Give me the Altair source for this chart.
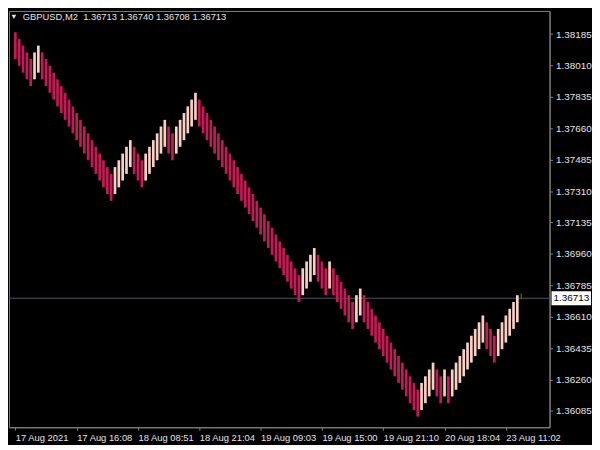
import altair as alt
import pandas as pd

# ---------------- data ----------------
symbol = "GBPUSD,M2"
quote = ["1.36713", "1.36740", "1.36708", "1.36713"]

bar_high = [
    1.38196, 1.38158, 1.38121, 1.38083, 1.38046, 1.38083, 1.38121, 1.38083, 1.38046, 1.38008,
    1.37970, 1.37933, 1.37895, 1.37858, 1.37820, 1.37782, 1.37745, 1.37707, 1.37670, 1.37632,
    1.37594, 1.37557, 1.37519, 1.37482, 1.37444, 1.37406, 1.37444, 1.37482, 1.37519, 1.37557,
    1.37594, 1.37557, 1.37519, 1.37482, 1.37519, 1.37557, 1.37594, 1.37632, 1.37670, 1.37707,
    1.37670, 1.37632, 1.37670, 1.37707, 1.37745, 1.37782, 1.37820, 1.37858, 1.37820, 1.37782,
    1.37745, 1.37707, 1.37670, 1.37632, 1.37594, 1.37557, 1.37519, 1.37482, 1.37444, 1.37406,
    1.37369, 1.37331, 1.37294, 1.37256, 1.37218, 1.37181, 1.37143, 1.37106, 1.37068, 1.37030,
    1.36993, 1.36955, 1.36918, 1.36880, 1.36842, 1.36880, 1.36918, 1.36955, 1.36993, 1.36955,
    1.36918, 1.36880, 1.36918, 1.36880, 1.36842, 1.36805, 1.36767, 1.36730, 1.36692, 1.36730,
    1.36767, 1.36730, 1.36692, 1.36654, 1.36617, 1.36579, 1.36542, 1.36504, 1.36466, 1.36429,
    1.36391, 1.36354, 1.36316, 1.36278, 1.36241, 1.36203, 1.36241, 1.36278, 1.36316, 1.36354,
    1.36316, 1.36278, 1.36316, 1.36278, 1.36316, 1.36354, 1.36391, 1.36429, 1.36466, 1.36504,
    1.36542, 1.36579, 1.36617, 1.36579, 1.36542, 1.36504, 1.36542, 1.36579, 1.36617, 1.36654,
    1.36692, 1.36730,
]

bar_low = [
    1.38046, 1.38008, 1.37970, 1.37933, 1.37895, 1.37933, 1.37970, 1.37933, 1.37895, 1.37858,
    1.37820, 1.37782, 1.37745, 1.37707, 1.37670, 1.37632, 1.37594, 1.37557, 1.37519, 1.37482,
    1.37444, 1.37406, 1.37369, 1.37331, 1.37294, 1.37256, 1.37294, 1.37331, 1.37369, 1.37406,
    1.37444, 1.37406, 1.37369, 1.37331, 1.37369, 1.37406, 1.37444, 1.37482, 1.37519, 1.37557,
    1.37519, 1.37482, 1.37519, 1.37557, 1.37594, 1.37632, 1.37670, 1.37707, 1.37670, 1.37632,
    1.37594, 1.37557, 1.37519, 1.37482, 1.37444, 1.37406, 1.37369, 1.37331, 1.37294, 1.37256,
    1.37218, 1.37181, 1.37143, 1.37106, 1.37068, 1.37030, 1.36993, 1.36955, 1.36918, 1.36880,
    1.36842, 1.36805, 1.36767, 1.36730, 1.36692, 1.36730, 1.36767, 1.36805, 1.36842, 1.36805,
    1.36767, 1.36730, 1.36767, 1.36730, 1.36692, 1.36654, 1.36617, 1.36579, 1.36542, 1.36579,
    1.36617, 1.36579, 1.36542, 1.36504, 1.36466, 1.36429, 1.36391, 1.36354, 1.36316, 1.36278,
    1.36241, 1.36203, 1.36166, 1.36128, 1.36090, 1.36053, 1.36090, 1.36128, 1.36166, 1.36203,
    1.36166, 1.36128, 1.36166, 1.36128, 1.36166, 1.36203, 1.36241, 1.36278, 1.36316, 1.36354,
    1.36391, 1.36429, 1.36466, 1.36429, 1.36391, 1.36354, 1.36391, 1.36429, 1.36466, 1.36504,
    1.36542, 1.36579,
]

bar_dir = list(
    "DDDDD" "UU" "DDDDDDDDDDDDDDDDDDD" "UUUUU" "DDD" "UUUUUU" "DD" "UUUUUU"
    "DDDDDDDDDDDDDDDDDDDDDDDDDDD" "UUUU" "DDD" "U" "DDDDDD" "UU"
    "DDDDDDDDDDDDDDD" "UUUU" "DD" "U" "D" "UUUUUUUUU" "DDD" "UUUUUU"
)

time_ticks = [1, 17, 33, 49, 65, 81, 97, 113, 129]
time_labels = ["17 Aug 2021", "17 Aug 16:08", "18 Aug 08:51", "18 Aug 21:04",
               "19 Aug 09:03", "19 Aug 15:00", "19 Aug 21:10", "20 Aug 18:04",
               "23 Aug 11:02"]

price_ticks = [1.38185, 1.38010, 1.37835, 1.37660, 1.37485, 1.37310, 1.37135,
               1.36960, 1.36785, 1.36610, 1.36435, 1.36260, 1.36085]

last_price = 1.36713
last_tick = {"bar": 133, "hi": 1.36740, "lo": 1.36708}

# ---------------- styling ----------------
FONT = "Liberation Sans"
CRIMSON = "#c8185a"
BEIGE = "#fbd0c4"
AXIS_GRAY = "#808080"
LABEL = "#e4e4e4"

W, H = 548, 422
x_domain = [0.625, 139.125]
y_domain = [1.35994, 1.38314]

bars = pd.DataFrame({
    "bar": list(range(1, len(bar_high) + 1)),
    "high": bar_high,
    "low": bar_low,
    "dir": bar_dir,
})

label_expr = " : ".join(
    f"datum.value == {t} ? '{l}'" for t, l in zip(time_ticks, time_labels)
) + " : ''"

x_axis = alt.Axis(values=time_ticks, labelExpr=label_expr, labelAlign="left",
                  labelPadding=2, tickSize=3, grid=False, title=None,
                  labelOverlap=False, labelFlush=False,
                  domainColor=AXIS_GRAY, tickColor=AXIS_GRAY, labelColor=LABEL,
                  labelFont=FONT, labelFontSize=9.5)
y_axis = alt.Axis(values=price_ticks, format=".5f", orient="right",
                  labelPadding=3, tickSize=3, grid=False, title=None,
                  labelOverlap=False, labelFlush=False,
                  domainColor=AXIS_GRAY, tickColor=AXIS_GRAY, labelColor=LABEL,
                  labelFont=FONT, labelFontSize=10)

x_scale = alt.Scale(domain=x_domain, nice=False, zero=False)
y_scale = alt.Scale(domain=y_domain, nice=False, zero=False)

bar_layer = alt.Chart(bars).mark_bar(size=2.7).encode(
    x=alt.X("bar:Q", scale=x_scale, axis=x_axis),
    y=alt.Y("high:Q", scale=y_scale, axis=y_axis),
    y2="low:Q",
    color=alt.Color("dir:N", scale=alt.Scale(domain=["D", "U"], range=[CRIMSON, BEIGE]),
                    legend=None),
)

price_df = pd.DataFrame({"high": [last_price], "txt": [f"{last_price:.5f}"]})

price_line = alt.Chart(price_df).mark_rule(color="#4c5568", strokeWidth=1).encode(
    y=alt.Y("high:Q", scale=y_scale, axis=y_axis),
)

price_box = alt.Chart(price_df).mark_point(
    shape="M-1,-0.36L1,-0.36L1,0.36L-1,0.36Z", filled=True, size=1600,
    color="#ffffff", opacity=1,
).encode(
    x=alt.value(570),
    y=alt.Y("high:Q", scale=y_scale, axis=y_axis),
)

price_text = alt.Chart(price_df).mark_text(
    font=FONT, fontSize=10, color="#000000", align="center", baseline="middle",
).encode(
    x=alt.value(570),
    y=alt.Y("high:Q", scale=y_scale, axis=y_axis),
    text="txt:N",
)

tick_df = pd.DataFrame({"bar": [last_tick["bar"]], "high": [last_tick["hi"]],
                        "low": [last_tick["lo"]]})
tick_layer = alt.Chart(tick_df).mark_rule(color="#00b000", strokeWidth=1).encode(
    x=alt.X("bar:Q", scale=x_scale, axis=x_axis),
    y=alt.Y("high:Q", scale=y_scale, axis=y_axis),
    y2="low:Q",
)

title_df = pd.DataFrame({"t": [symbol + "\u00a0\u00a0" + " ".join(quote)]})
title_text = alt.Chart(title_df).mark_text(
    font=FONT, fontSize=9.5, color=LABEL, align="left", baseline="middle",
).encode(x=alt.value(14), y=alt.value(6), text="t:N")

title_tri = alt.Chart(title_df).mark_point(
    shape="triangle-down", filled=True, size=22, color=LABEL, opacity=1,
).encode(x=alt.value(5), y=alt.value(6))

chart = alt.layer(
    price_line, bar_layer, tick_layer, price_box, price_text, title_tri, title_text
).properties(
    width=W, height=H, padding=0, background="#000000",
).configure_view(
    stroke=AXIS_GRAY, strokeWidth=1, fill="#000000",
)

chart.save("out.html", embed_options={"renderer": "svg", "actions": False})
